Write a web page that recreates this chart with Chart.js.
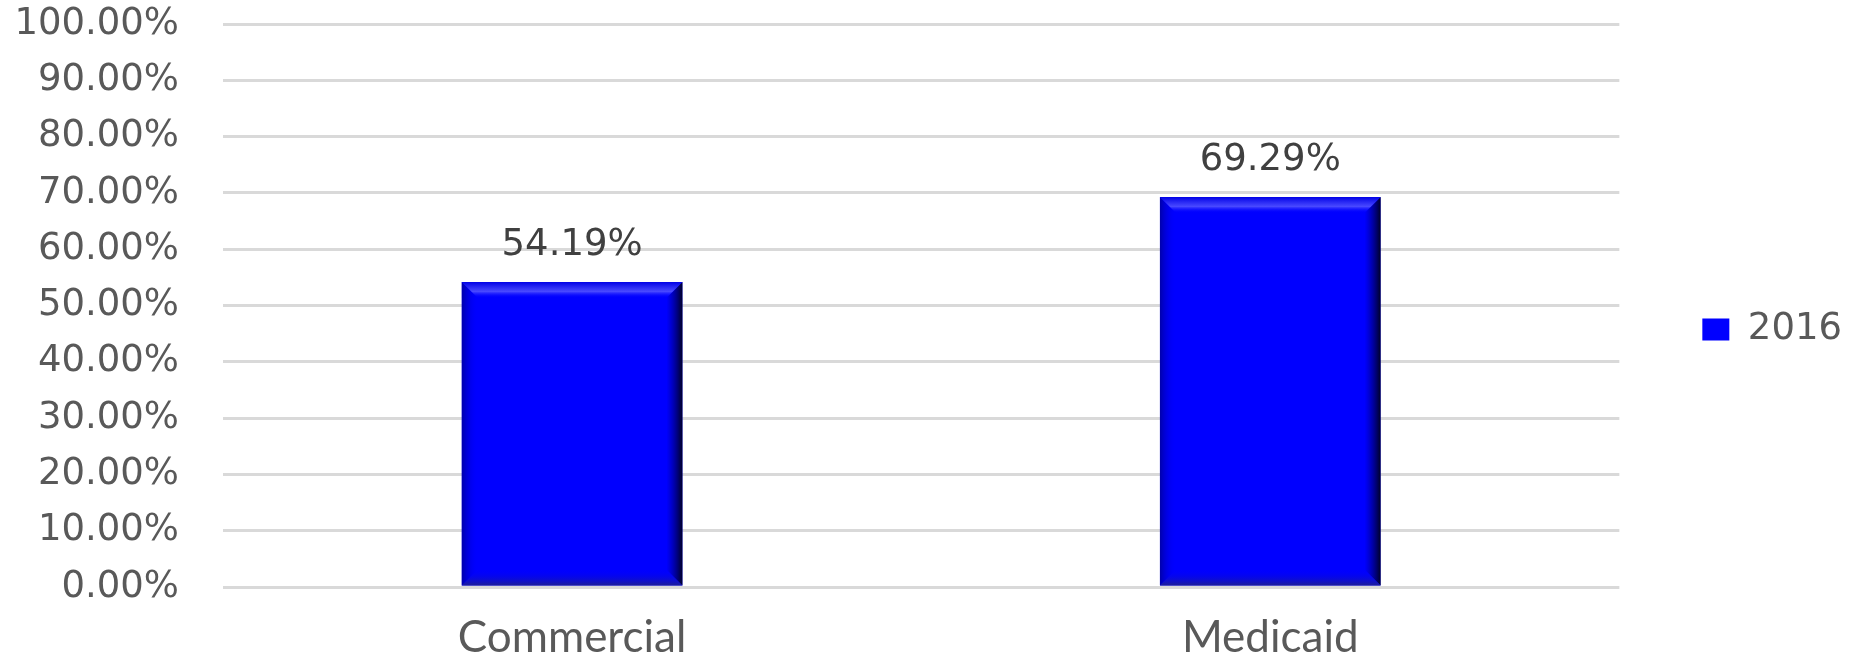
<!DOCTYPE html>
<html>
<head>
<meta charset="utf-8">
<script src="https://cdn.jsdelivr.net/npm/chart.js@4/dist/chart.umd.min.js"></script>
<style>
  html, body { margin: 0; padding: 0; background: #fff; }
  #wrap { width: 1870px; height: 659px; }
</style>
</head>
<body>
<div id="wrap"><canvas id="myChart"></canvas></div>
<script>
// data
const categories = ['Commercial', 'Medicaid'];
const values2016 = [54.19, 69.29];
const yTicks = [0, 10, 20, 30, 40, 50, 60, 70, 80, 90, 100];

// bevel look on the bars, drawn over each bar element
const bevel = {
  id: 'bevel',
  afterDatasetsDraw(chart) {
    const ctx = chart.ctx;
    chart.getDatasetMeta(0).data.forEach(bar => {
      const l = bar.x - bar.width / 2, r = bar.x + bar.width / 2;
      const t = bar.y, b = bar.base;
      const e = 16;
      ctx.save();
      // right dark edge
      let g = ctx.createLinearGradient(r - e, 0, r, 0);
      g.addColorStop(0, 'rgba(0,0,120,0)');
      g.addColorStop(1, 'rgba(0,0,40,1)');
      ctx.fillStyle = g;
      ctx.beginPath();
      ctx.moveTo(r, t); ctx.lineTo(r, b); ctx.lineTo(r - e, b - e); ctx.lineTo(r - e, t + e); ctx.closePath();
      ctx.fill();
      // left edge
      g = ctx.createLinearGradient(l, 0, l + e, 0);
      g.addColorStop(0, 'rgba(0,0,150,0.8)');
      g.addColorStop(1, 'rgba(0,0,255,0)');
      ctx.fillStyle = g;
      ctx.beginPath();
      ctx.moveTo(l, t); ctx.lineTo(l, b); ctx.lineTo(l + e, b - e); ctx.lineTo(l + e, t + e); ctx.closePath();
      ctx.fill();
      // top highlight
      g = ctx.createLinearGradient(0, t, 0, t + e);
      g.addColorStop(0, 'rgba(0,0,230,1)');
      g.addColorStop(0.6, 'rgba(80,80,255,0.9)');
      g.addColorStop(1, 'rgba(0,0,255,0)');
      ctx.fillStyle = g;
      ctx.beginPath();
      ctx.moveTo(l, t); ctx.lineTo(r, t); ctx.lineTo(r - e, t + e); ctx.lineTo(l + e, t + e); ctx.closePath();
      ctx.fill();
      // bottom shade
      g = ctx.createLinearGradient(0, b - e, 0, b);
      g.addColorStop(0, 'rgba(0,0,255,0)');
      g.addColorStop(1, 'rgba(30,30,150,1)');
      ctx.fillStyle = g;
      ctx.beginPath();
      ctx.moveTo(l, b); ctx.lineTo(r, b); ctx.lineTo(r - e, b - e); ctx.lineTo(l + e, b - e); ctx.closePath();
      ctx.fill();
      ctx.restore();
    });
  }
};

// value labels above bars
const valueLabels = {
  id: 'valueLabels',
  afterDatasetsDraw(chart) {
    const ctx = chart.ctx;
    const ds = chart.data.datasets[0];
    ctx.save();
    ctx.font = '37px "DejaVu Sans"';
    ctx.fillStyle = '#404040';
    ctx.textAlign = 'center';
    ctx.textBaseline = 'alphabetic';
    chart.getDatasetMeta(0).data.forEach((bar, i) => {
      ctx.fillText(ds.data[i].toFixed(2) + '%', bar.x, bar.y - 27);
    });
    ctx.restore();
  }
};

const data = {
  labels: categories,
  datasets: [{
    label: '2016',
    data: values2016,
    backgroundColor: '#0000ff',
    borderWidth: 0,
    barPercentage: 0.316,
    categoryPercentage: 1
  }]
};

const config = {
  type: 'bar',
  data,
  options: {
    responsive: true,
    maintainAspectRatio: false,
    animation: false,
    layout: { padding: { top: 0, right: 18, bottom: 0, left: 0 } },
    plugins: {
      tooltip: { enabled: false },
      legend: {
        position: 'right',
        labels: {
          boxWidth: 27,
          boxHeight: 22,
          padding: 83,
          color: '#595959',
          font: { family: 'DejaVu Sans', size: 37 }
        }
      }
    },
    scales: {
      x: {
        grid: { display: false },
        border: { display: false },
        ticks: {
          color: '#595959',
          padding: 16,
          font: { family: 'Lato', size: 44 }
        },
        afterFit(scale) { scale.height = 72; }
      },
      y: {
        min: 0,
        max: 100,
        afterBuildTicks(scale) { scale.ticks = yTicks.map(v => ({ value: v })); },
        grid: { color: '#d9d9d9', lineWidth: 3, drawTicks: false },
        border: { display: false },
        ticks: {
          color: '#595959',
          padding: 44,
          font: { family: 'DejaVu Sans', size: 37 },
          callback: v => v.toFixed(2) + '%'
        },
        afterFit(scale) {
          scale.width = 223;
          scale.paddingTop = 24;
          scale.paddingBottom = 24;
        }
      }
    }
  },
  plugins: [bevel, valueLabels]
};

const myChart = new Chart(document.getElementById('myChart'), config);
</script>
</body>
</html>
